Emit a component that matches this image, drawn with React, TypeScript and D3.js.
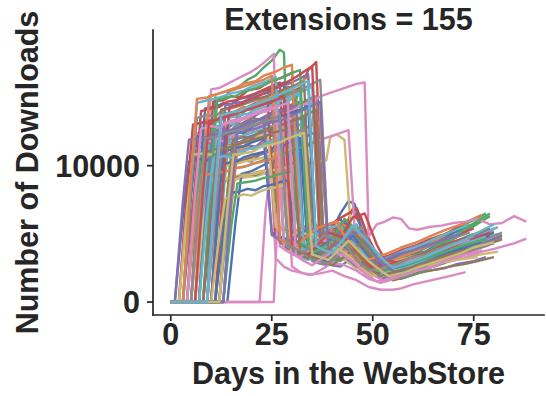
import React from "react";
import * as d3 from "d3";

// Daily download counts per extension: [day in the WebStore, downloads]
const extensionSeries: [number, number][][] = [
  [[0,0],[3,0],[5,7600],[6.5,12200],[9,12000],[11,12700],[13,12500],[16,13200],[18,13000],[21,13700],[23,14000],[25,14600],[27,4800],[29,4300],[31,4200],[34,4900],[37,5300],[42,6100],[45,4300],[49,2400],[52,2700],[56,2900],[59,3500],[63,3700],[66,4200],[70,4300],[75,4900]],
  [[0,0],[5,0],[7,8200],[8.5,13400],[11,13200],[13,13900],[15,13700],[18,14300],[20,14100],[23,14800],[26,15100],[29,15800],[31,3900],[33,3600],[35,3300],[38,4100],[41,4600],[44,4300],[46,3900],[49,2600],[52,1900],[55,2300],[59,2600],[62,3100],[66,3400],[69,3900],[73,4200],[78,4800]],
  [[0,0],[9,0],[10,7000],[11,15000],[13,14900],[15,15600],[17,15800],[19,16300],[21,16600],[23,17200],[25,17700],[27,18500],[28,18300],[30,4400],[32,3900],[34,3600],[37,4700],[40,5500],[43,5000],[45,4600],[48,3300],[51,2600],[55,3000],[58,3400],[62,3800],[65,4300],[69,4800],[72,5600],[75,6000],[78,6500]],
  [[0,0],[8,0],[10,7400],[11.5,11800],[14,12100],[16,12600],[19,12800],[21,13300],[24,13500],[27,13900],[30,14200],[32,15600],[34,17000],[36,17600],[38,3200],[40,3500],[42,4600],[45,6800],[47,5600],[49,3600],[52,2600],[54,2200],[58,2500],[61,2900],[65,3300],[68,3600],[72,4000],[76,4400]],
  [[0,0],[6,0],[8,6600],[9.5,10600],[12,10900],[14,10700],[16,11300],[19,11500],[21,11400],[24,12100],[27,12400],[30,13000],[32,3400],[34,3200],[36,3000],[39,3700],[41,4300],[44,3900],[46,3500],[49,2400],[52,1700],[56,2000],[59,2300],[63,2900],[66,3100],[69,3500],[72,3800],[77,4400]],
  [[0,0],[7,0],[9,8000],[10.5,12700],[13,12600],[15,13100],[17,13000],[20,13500],[22,13400],[25,13900],[28,14200],[30,14500],[32,14700],[34,3600],[36,3300],[38,3100],[41,4000],[43,4800],[46,4100],[48,3500],[51,2600],[54,2000],[58,2300],[61,2600],[65,3000],[68,3300],[71,3600],[74,3900]],
  [[0,0],[7,0],[8.5,9000],[10,15600],[12,15700],[14,16000],[16,16300],[18,16600],[20,16900],[22,17300],[24,17800],[25.5,18200],[27,4100],[29,3700],[31,3500],[34,4200],[36,4800],[39,5100],[42,5400],[45,3900],[49,2300],[52,2500],[56,2800],[60,3200],[63,3500],[67,3900],[70,4200],[74,4700]],
  [[0,0],[10,0],[12,7000],[13.5,11300],[16,11500],[18,11400],[20,11900],[23,12000],[25,12400],[28,12600],[31,12900],[33,13100],[35,3000],[37,2800],[39,2700],[42,3500],[44,4100],[47,3700],[49,3100],[52,2300],[54,1800],[58,2100],[61,2500],[65,2800],[68,3200],[72,3500],[75,3900],[80,4300]],
  [[0,0],[5,0],[7,5400],[8.5,8600],[11,8700],[13,8900],[15,8800],[17,9100],[20,9200],[22,9300],[24,9500],[26.5,9500],[28,5300],[31,4900],[33,4600],[36,4400],[38,4100],[41,3800],[44,3300],[47,2600],[50,2100],[54,2400],[57,2700],[61,3000],[64,3300],[68,3600],[71,3900],[76,4300]],
  [[0,0],[4,0],[6,8100],[7.5,13100],[10,13300],[12,13200],[14,13700],[16,13900],[19,14100],[21,14400],[24,14700],[26,14900],[28,15300],[30,3700],[32,3300],[34,3100],[37,3800],[39,4400],[42,4200],[44,3900],[47,2900],[50,2200],[54,2500],[57,2900],[61,3400],[64,3700],[68,4100],[71,4500],[76,5100]],

  [[0,0],[14,0],[16,5800],[17.5,9400],[20,9600],[22,9900],[24,10200],[26,10500],[29,10700],[31,11100],[34,11500],[37,12000],[39,4100],[40.5,5600],[42,6500],[44,7400],[45.5,7200],[47,5600],[50,3600],[52,2800],[55,2900],[58,3000],[62,3500],[65,3800],[69,4300],[72,4600],[78,5200]],
  [[0,0],[2,0],[4,7000],[5.5,11200],[8,11400],[10,11300],[12,11800],[14,12000],[16,11900],[19,12400],[21,12700],[24,13100],[26,5600],[28,5300],[30,5100],[33,5500],[35,5900],[38,5200],[41,4600],[44,3600],[48,2700],[51,2900],[55,3200],[58,3600],[62,4000],[65,4300],[69,4700],[74,5300]],
  [[0,0],[11,0],[13,7800],[14.5,12600],[17,12800],[19,12700],[21,13200],[23,13500],[26,13600],[28,14100],[31,14400],[33,14700],[35,15000],[37,3400],[39,3200],[41,3100],[44,3900],[46,4400],[49,3300],[51,2600],[53,2200],[56,2000],[60,2400],[63,2700],[67,3200],[70,3600],[74,4000],[77,4500],[81,5000]],
  [[0,0],[9,0],[11,8400],[12.5,13600],[15,13800],[17,14000],[19,14300],[21,14600],[24,14700],[26,15100],[29,15300],[32,15700],[34,4500],[36,4200],[38,3900],[41,5000],[43,5900],[45,6100],[47,6300],[49,4600],[52,3000],[55,2700],[58,2600],[62,3000],[65,3300],[69,3700],[72,4100],[78,4600]],
  [[0,0],[12,0],[14,6300],[15.5,10200],[18,10400],[20,10300],[22,10800],[24,11000],[27,11200],[29,11600],[32,12000],[34,12200],[36,12500],[38,2900],[40,2700],[42,2600],[45,3300],[47,3800],[50,2900],[52,2300],[55,1900],[57,1700],[61,2100],[64,2300],[68,2500],[71,2800],[75,3000],[78,3300]],
  [[0,0],[3,0],[5,6000],[6.5,9700],[9,9800],[11,10000],[13,9900],[15,10300],[18,10400],[20,10600],[22,10900],[25,11200],[27,4400],[29,3900],[31,3700],[34,4300],[37,4900],[40,5000],[42,5200],[45,3800],[48,2500],[52,2700],[55,2900],[59,3300],[62,3600],[66,3900],[69,4200],[74,4600]],
  [[0,0],[2,0],[4,7600],[5.5,12300],[8,12500],[10,12400],[12,12900],[14,13000],[17,13300],[19,13500],[21,13800],[24,14100],[26,3200],[28,2600],[30,2300],[33,2100],[35,2000],[38,2500],[40,2900],[43,2700],[46,2300],[49,1700],[52,1400],[55,1700],[58,2000],[62,2400],[65,2700],[69,3100],[72,3400]],
  [[0,0],[6,0],[8,7400],[9.5,12000],[12,12200],[14,12100],[16,12600],[18,12800],[21,13000],[23,13300],[26,13500],[28,13800],[30,14000],[32,4000],[34,3700],[36,3500],[39,4400],[41,5100],[44,4700],[46,4300],[49,3000],[52,2200],[55,2500],[59,2800],[62,3200],[66,3500],[69,3900],[73,4200],[77,4700]],
  [[0,0],[9,0],[11,5600],[12.5,9000],[15,9100],[17,9300],[20,9400],[22,9600],[25,9700],[28,9900],[31,10000],[34,10200],[38.5,10400],[39.5,12100],[41,12300],[43,11900],[45,3600],[47,3200],[49,2900],[52,2200],[54,1800],[58,2100],[61,2300],[65,2600],[68,2900],[72,3200],[75,3400],[81,3700]],
  [[0,0],[8,0],[10,8000],[11.5,12900],[14,13100],[16,13000],[18,13500],[20,13800],[23,14000],[25,14300],[28,14600],[30,14900],[32,15200],[34,3800],[36,3500],[38,3300],[41,4600],[43,5400],[46,4700],[48,4100],[51,2800],[53,2100],[57,2500],[60,2800],[64,3300],[67,3600],[71,4000],[74,4400],[79,5000]],

  [[0,0],[5,0],[7,8800],[8.5,14200],[11,14300],[13,14600],[15,14500],[17,14900],[20,15100],[22,15400],[25,15700],[28,16100],[30,4600],[32,4200],[34,3900],[37,4700],[39,5300],[42,5600],[44,5800],[47,4200],[50,2800],[53,3000],[57,3400],[60,3800],[64,4300],[67,4700],[71,5200],[76,5800]],
  [[0,0],[10,0],[12,8600],[13.5,13800],[16,14000],[18,14300],[20,14200],[22,14800],[25,15000],[27,15400],[30,15800],[32,16100],[34,16500],[36,3600],[38,3400],[40,3200],[43,4300],[45,5000],[48,4100],[50,3300],[53,2700],[55,2300],[59,2600],[62,2900],[66,3400],[69,3800],[73,4200],[76,4700],[80,5200]],
  [[0,0],[4,0],[6,6800],[7.5,10900],[10,11100],[12,11000],[14,11500],[16,11600],[19,11900],[21,12100],[24,12400],[27,12800],[29,4100],[31,3800],[33,3600],[36,4200],[38,4700],[41,4400],[43,4200],[46,2900],[49,2000],[53,2400],[56,2700],[60,3100],[63,3500],[67,4000],[70,4400],[75,5000]],
  [[0,0],[7,0],[9,9200],[10.5,14700],[13,14800],[15,15100],[17,15000],[19,15500],[22,15700],[24,16100],[27,16400],[30,16800],[32,4900],[34,4500],[36,4200],[39,5200],[41,6000],[44,6500],[46,6900],[49,4700],[51,3400],[54,3000],[57,2800],[61,3200],[64,3500],[68,3900],[71,4300],[77,5000]],
  [[0,0],[9,0],[11,7200],[12.5,11600],[15,11800],[17,11700],[19,12100],[21,12300],[24,12500],[26,12800],[29,13100],[31,13300],[33,13600],[35,3300],[37,3100],[39,2900],[42,3900],[44,4600],[47,3700],[49,3000],[52,2300],[54,1900],[58,2200],[61,2500],[65,2900],[68,3300],[72,3700],[75,4100],[79,4500]],
  [[0,0],[11,0],[13,5800],[14.5,9100],[17,9200],[19,9400],[21,9300],[23,9600],[26,9800],[28,10000],[31,10300],[34,10600],[36,3100],[38,2900],[40,2700],[43,3400],[45,3900],[48,3200],[50,2700],[53,2000],[55,1600],[59,1900],[62,2200],[66,2400],[69,2600],[73,2800],[76,3000],[80,3300]],
  [[0,0],[22,0],[23.5,6800],[25,10500],[27,10700],[29,11000],[31,11200],[34,11600],[36,11800],[39,12100],[41,12300],[44,12600],[46,3000],[48,2500],[50,2000],[53,1500],[56,1800],[59,2000],[62,2400],[66,2700],[69,3000],[73,3300],[77,3700],[80,3900],[85,4300],[88,4650]],
  [[0,0],[12,0],[14,8000],[15.5,12800],[18,13000],[20,13100],[22,13400],[24,13600],[27,13900],[29,14200],[32,14500],[34,14800],[36,15100],[38,3700],[40,3500],[42,3300],[45,4200],[47,4800],[50,3500],[52,2800],[55,2400],[57,2100],[61,2400],[64,2700],[68,3100],[71,3500],[75,3900],[78,4300],[82,4700]],
  [[0,0],[8,0],[10,6200],[11.5,9900],[14,10000],[16,10100],[18,10300],[20,10400],[23,10600],[25,10800],[28,11000],[31,11400],[33,4300],[35,4000],[37,3800],[40,4300],[42,4700],[45,4100],[47,3600],[50,2700],[53,2200],[57,2500],[60,2800],[64,3200],[67,3500],[71,3800],[74,4100],[78,4500]],
  [[0,0],[6,0],[8,7100],[9.5,11500],[12,11700],[14,11600],[16,12100],[18,12200],[21,12500],[23,12700],[26,13000],[29,13400],[31,4200],[33,3900],[35,3600],[38,4400],[40,5000],[43,4700],[45,4400],[48,3200],[51,2300],[54,2600],[58,3000],[61,3400],[65,3800],[68,4200],[72,4600],[77,5100]],

  [[0,0],[1,0],[3,6400],[4.5,10300],[7,10500],[9,10400],[11,10900],[13,11000],[15,11200],[18,11400],[20,11700],[23,12000],[25,5100],[27,4800],[29,4600],[32,5000],[34,5400],[37,4800],[39,4300],[42,3300],[46,2500],[49,2700],[53,3000],[56,3300],[60,3700],[63,4000],[67,4400],[71,4900]],
  [[0,0],[13,0],[15,7000],[16.5,11100],[19,11300],[21,11200],[23,11700],[25,11900],[28,12100],[30,12400],[33,12700],[35,13000],[37,13200],[39,3500],[41,3700],[43,3900],[45,4800],[46,5200],[49,3900],[51,3200],[54,2400],[56,2000],[60,2300],[63,2600],[67,3000],[70,3400],[74,3800],[77,4200],[81,4700]],
  [[0,0],[7,0],[9,8300],[10.5,13300],[13,13500],[15,13700],[17,13600],[19,14200],[22,14400],[24,14700],[27,15000],[29,15300],[31,15500],[33,4000],[35,3700],[37,3400],[40,4600],[42,5600],[45,5000],[47,4500],[50,3200],[52,2400],[56,2800],[59,3100],[63,3600],[66,4000],[70,4600],[73,5200],[79,6300]],
  [[0,0],[4,0],[6,8700],[7.5,14000],[10,14200],[12,14300],[14,14700],[16,14800],[19,15100],[21,15300],[24,15700],[27,16100],[29,4500],[31,4200],[33,3900],[36,4700],[38,5400],[41,5200],[43,5000],[46,3600],[49,2700],[52,2900],[56,3200],[59,3600],[63,4000],[66,4400],[70,4800],[75,5400]],
  [[0,0],[10,0],[12,9000],[13.5,14400],[16,14600],[18,14700],[20,15000],[22,15200],[25,15400],[27,15800],[30,16100],[32,16400],[34,16700],[36,3900],[38,3600],[40,3400],[43,4500],[45,5300],[48,4400],[50,3800],[53,2900],[55,2400],[59,2700],[62,3000],[66,3500],[69,3900],[73,4300],[76,4800],[80,5400]],
  [[0,0],[5,0],[7,6900],[8.5,11000],[11,11200],[13,11100],[15,11500],[17,11700],[20,11900],[22,12200],[25,12400],[28,12800],[30,3800],[32,3500],[34,3200],[37,3900],[39,4500],[42,4100],[44,3700],[47,2700],[50,1900],[53,2200],[57,2500],[60,2900],[64,3200],[67,3600],[71,3900],[76,4400]],
  [[0,0],[5,0],[7,7300],[8.5,11700],[11,11900],[13,11800],[15,12200],[17,12400],[20,12600],[22,12900],[25,13200],[28,13600],[30,2600],[32,2200],[34,2000],[37,2100],[40,2300],[43,1900],[46,1600],[49,1100],[52,900],[55,900],[57,1000],[60,1300],[63,1500],[66,1700],[69,1900],[73,2200]],
  [[0,0],[3,0],[5,8400],[6.5,13500],[9,13700],[11,13600],[13,14100],[15,14200],[18,14500],[20,14700],[23,15000],[26,15400],[28,4300],[30,4000],[32,3800],[35,4500],[37,5000],[40,5200],[42,5300],[45,3900],[48,2600],[51,2800],[55,3100],[58,3500],[62,3900],[65,4200],[69,4600],[74,5100]],
  [[0,0],[6,0],[8,5600],[9.5,8900],[12,9000],[14,9100],[16,9000],[18,9300],[21,9400],[23,9600],[26,9700],[29,9900],[31,4800],[33,4500],[35,4200],[38,4400],[40,4500],[43,3800],[45,3300],[48,2600],[51,2000],[54,2300],[58,2600],[61,2900],[65,3200],[68,3500],[72,3800],[77,4200]],
  [[0,0],[11,0],[13,8400],[14.5,13500],[17,13700],[19,13800],[21,14100],[23,14300],[26,14500],[28,14900],[31,15200],[33,15500],[35,15800],[37,4200],[39,3900],[41,3700],[44,4800],[46,5700],[49,4200],[51,3600],[54,2800],[56,2400],[60,2800],[63,3100],[67,3600],[70,4000],[74,4500],[77,5000],[81,5500]],

  [[0,0],[8,0],[10,6200],[11.5,10000],[14,10200],[16,10300],[18,10600],[20,10800],[23,11000],[25,11300],[28,11500],[30,11800],[32,12000],[34,3500],[36,3200],[38,3000],[41,3800],[43,4400],[46,3900],[48,3500],[51,2500],[53,2000],[57,2300],[60,2600],[64,3100],[67,3400],[71,3800],[74,4200],[79,4800]],
  [[0,0],[6,0],[8,9400],[9.5,15100],[12,15300],[14,15500],[16,15700],[18,16000],[21,16200],[23,16600],[26,16900],[28,17200],[30,17400],[32,4200],[34,3900],[36,3700],[39,5000],[41,5900],[44,5500],[46,5200],[49,3600],[51,2700],[55,3000],[58,3400],[62,3900],[65,4400],[69,5100],[72,5700],[77,6400]],
  [[0,0],[12,0],[14,6100],[15.5,9800],[18,9900],[20,10100],[22,10300],[24,10500],[27,10700],[29,11000],[32,11300],[34,11500],[36,11800],[38,3300],[40,3100],[42,3000],[45,3800],[47,4500],[50,3300],[52,2600],[55,2100],[57,1800],[61,2100],[64,2500],[68,2900],[71,3400],[75,3800],[78,4300],[82,4900]],
  [[0,0],[2,0],[4,8100],[5.5,13000],[8,13200],[10,13100],[12,13500],[14,13700],[16,13900],[19,14200],[21,14400],[24,14800],[26,4700],[28,4400],[30,4100],[33,4800],[35,5300],[38,5600],[40,5800],[43,4200],[47,2900],[50,3100],[54,3400],[57,3800],[61,4200],[64,4600],[68,5000],[72,5600]],
  [[0,0],[7,0],[9,7800],[10.5,12500],[13,12700],[15,12600],[17,12800],[19,13200],[22,13400],[24,13700],[27,14000],[29,14200],[31,14400],[33,4100],[35,3800],[37,3500],[40,4400],[42,5200],[45,4600],[47,4100],[50,3000],[52,2300],[56,2600],[59,2900],[63,3400],[66,3700],[70,4100],[73,4500],[78,5000]],
  [[0,0],[9,0],[11,8800],[12.5,14100],[15,14300],[17,14400],[19,14700],[21,14900],[24,15100],[26,15400],[29,15700],[31,15900],[33,16100],[35,3900],[37,3600],[39,3400],[42,4500],[44,5500],[47,4600],[49,4000],[52,3000],[54,2500],[58,2800],[61,3100],[65,3600],[68,4000],[72,4500],[75,4900],[79,5400]],
  [[0,0],[25.5,0],[26.5,6500],[28,13800],[30,14000],[32,14400],[34,14600],[36,14900],[38,15200],[40,15400],[42,15600],[44,15800],[46,16000],[48,16100],[49,4800],[51,5700],[53,5900],[55,6200],[57,6100],[59,5400],[61,5300],[64,5500],[67,5600],[70,5800],[73,5900],[76,6100],[79,5700],[82,5800],[85,6300],[88,5900]],
  [[0,0],[13,0],[15,8700],[16.5,13900],[19,14100],[21,14300],[23,14500],[25,14700],[28,15000],[30,15300],[33,15700],[35,16000],[37,16300],[39,4000],[41,4400],[43,4800],[45,5300],[47,5500],[50,3900],[52,3100],[55,2600],[57,2300],[61,2700],[64,3000],[68,3400],[71,3800],[75,4200],[78,4600],[82,5100]],
  [[0,0],[2,0],[4,6700],[5.5,10800],[8,10900],[10,10800],[12,11200],[14,11400],[16,11500],[19,11800],[21,12100],[24,12400],[26,5500],[28,5200],[30,4900],[33,5000],[35,5000],[38,4400],[40,4000],[43,3100],[47,2300],[50,2500],[54,2800],[57,3100],[61,3400],[64,3700],[68,4000],[72,4400]],
  [[0,0],[3,0],[5,9100],[6.5,14600],[9,14800],[11,14900],[13,15100],[15,15300],[18,15500],[20,15800],[23,16100],[26,16500],[28,4400],[30,4100],[32,3900],[35,4700],[37,5200],[40,5500],[42,5600],[45,4000],[48,2800],[51,3000],[55,3400],[58,3800],[62,4200],[65,4600],[69,5100],[74,5700]],

  [[0,0],[10,0],[12,7700],[13.5,12300],[16,12500],[18,12400],[20,12800],[22,13100],[25,13300],[27,13600],[30,13900],[32,14100],[34,14400],[36,3600],[38,3300],[40,3100],[43,4100],[45,4900],[48,3800],[50,3100],[53,2500],[55,2100],[59,2400],[62,2800],[66,3200],[69,3600],[73,4000],[76,4500],[80,5100]],
  [[0,0],[4,0],[6,5800],[7.5,9300],[10,9400],[12,9500],[14,9600],[16,9800],[19,10000],[21,10200],[24,10400],[27,10800],[29,4600],[31,4300],[33,4000],[36,4300],[38,4600],[41,4200],[43,3800],[46,2900],[49,2200],[53,2500],[56,2800],[60,3100],[63,3500],[67,3800],[70,4200],[75,4600]],
  [[0,0],[8,0],[10,9200],[11.5,14800],[14,15000],[16,15100],[18,15400],[20,15600],[23,15900],[25,16200],[28,16500],[30,16800],[32,17000],[34,4300],[36,4000],[38,3800],[41,5100],[43,6100],[46,5300],[48,4800],[51,3300],[53,2600],[57,3000],[60,3300],[64,3800],[67,4300],[71,5000],[74,5600],[79,6500]],
  [[0,0],[11,0],[13,8900],[14.5,14300],[17,14500],[19,14800],[21,15000],[23,15300],[26,15700],[28,16000],[31,16500],[33,16900],[35,17300],[37,4400],[39,4200],[41,4000],[43,5200],[45,6200],[47,6400],[48,6500],[51,4200],[53,3100],[56,2900],[59,2800],[63,3200],[66,3500],[70,4000],[73,4400],[79,5100]],
  [[0,0],[1,0],[3,7400],[4.5,11900],[7,12000],[9,12100],[11,12300],[13,12500],[15,12600],[18,12900],[20,13200],[23,13500],[25,4900],[27,4600],[29,4400],[32,5000],[34,5500],[37,5100],[39,4800],[42,3600],[46,2600],[49,2800],[53,3100],[56,3500],[60,3800],[63,4100],[67,4500],[72,5000]],
  [[0,0],[12,0],[14,7400],[15.5,11900],[18,12100],[20,12000],[22,12500],[24,12700],[27,12900],[29,13200],[32,13500],[34,13800],[36,14100],[38,3400],[40,3200],[42,3100],[45,3800],[47,4300],[50,3200],[52,2500],[55,2100],[57,1900],[61,2200],[64,2600],[68,3000],[71,3400],[75,3800],[78,4200],[82,4600]],
  [[0,0],[4,0],[6,7900],[7.5,12700],[10,12900],[12,12800],[14,13200],[16,13400],[19,13600],[21,13900],[24,14200],[26,14400],[28,3900],[30,3500],[32,3300],[35,4000],[37,4600],[40,4400],[42,4100],[45,3000],[48,2200],[51,2400],[55,2700],[58,3000],[62,3400],[65,3700],[69,4100],[74,4600]],
  [[0,0],[9,0],[11,6700],[12.5,10700],[15,10900],[17,10800],[19,11200],[21,11400],[24,11600],[26,11900],[29,12200],[31,12400],[33,12700],[35,3200],[37,3000],[39,2800],[42,3600],[44,4200],[47,3500],[49,2900],[52,2200],[54,1700],[58,2000],[61,2300],[65,2700],[68,3000],[72,3400],[75,3800],[79,4200]],
  [[0,0],[10,0],[12,4800],[13.5,7600],[16,7700],[18,7900],[20,7800],[22,8100],[24,8300],[26,8400],[28,8600],[30,4200],[32,3900],[34,3600],[37,3900],[39,4200],[42,3800],[44,3400],[47,2500],[50,1900],[53,2200],[57,2400],[60,2600],[64,2700],[67,2900],[71,3100],[76,3300]],
  [[0,0],[7,0],[9,6600],[10.5,10500],[13,10700],[15,10600],[17,11000],[19,11200],[22,11400],[24,11700],[27,12000],[29,12200],[31,12400],[33,3800],[35,3500],[37,3300],[40,4100],[42,4700],[45,4200],[47,3800],[50,2700],[52,2000],[56,2300],[59,2700],[63,3100],[66,3500],[70,3900],[73,4300],[78,4800]],

  [[0,0],[11,0],[13,5200],[14.5,8000],[17,8100],[19,8300],[21,8200],[23,8500],[25,8600],[27,8800],[29,8900],[31,4400],[33,4100],[35,3800],[38,4200],[40,4600],[43,4100],[45,3700],[48,2800],[51,2100],[54,2400],[58,2700],[61,3000],[65,3400],[68,3700],[72,4000],[77,4400]],
  [[0,0],[3,0],[5,9300],[6.5,14900],[9,15000],[11,15200],[13,15400],[15,15500],[18,15800],[20,16000],[23,16300],[25,16600],[27,4600],[29,4300],[31,4100],[34,4900],[36,5400],[39,5700],[41,5900],[44,4300],[47,3000],[50,3200],[54,3600],[57,4000],[61,4400],[64,4800],[68,5300],[73,5800]],
  [[0,0],[13,0],[15,5600],[16.5,8700],[19,8800],[21,8900],[23,9100],[25,9200],[27,9400],[30,9600],[32,4300],[34,4000],[36,3700],[39,4300],[41,4800],[44,4300],[46,3900],[49,2800],[52,2200],[55,2500],[59,2800],[62,3100],[66,3500],[69,3800],[73,4200],[78,4600]],
  [[0,0],[6,0],[8,8300],[9.5,13300],[12,13400],[14,13600],[16,13800],[18,14000],[21,14300],[23,14500],[26,14800],[28,15100],[30,4000],[32,3700],[34,3500],[37,4400],[39,5100],[42,4800],[44,4500],[47,3300],[50,2500],[53,2700],[57,3000],[60,3300],[64,3700],[67,4100],[71,4500],[76,5000]],
  [[0,0],[13,0],[15,7700],[16.5,12400],[19,12600],[21,12700],[23,12900],[25,13200],[28,13400],[30,13700],[33,14100],[35,14400],[37,14700],[39,3800],[41,4300],[43,4700],[45,5000],[47,5200],[50,3600],[52,2900],[55,2300],[57,2000],[61,2400],[64,2800],[68,3200],[71,3600],[75,4000],[78,4400],[82,4900]],
  [[0,0],[8,0],[10,7000],[11.5,11200],[14,11300],[16,11500],[18,11700],[20,11900],[23,12100],[25,12400],[28,12600],[30,12900],[32,3700],[34,3400],[36,3200],[39,3900],[41,4500],[44,4000],[46,3600],[49,2500],[52,1900],[55,2200],[59,2500],[62,2800],[66,3200],[69,3500],[73,3800],[78,4200]],
  [[0,0],[9,0],[11,8100],[12.5,13000],[15,13200],[17,13300],[19,13600],[21,13800],[24,14000],[26,14300],[29,14600],[31,3400],[33,3000],[35,2700],[38,3300],[40,3700],[43,3400],[45,3000],[48,2100],[51,1500],[54,1700],[58,2000],[61,2300],[65,2600],[68,3000],[72,3400],[77,3800]],
  [[0,0],[5,0],[7,7500],[8.5,12000],[11,12100],[13,12300],[15,12500],[17,12600],[20,12900],[22,13100],[25,13400],[27,13700],[29,4200],[31,3900],[33,3700],[36,4400],[38,4900],[41,4600],[43,4300],[46,3100],[49,2300],[52,2500],[56,2800],[59,3200],[63,3500],[66,3900],[70,4300],[75,4800]],
  [[0,0],[12,0],[14,6800],[15.5,10800],[18,10900],[20,11000],[22,11300],[24,11500],[27,11700],[29,12000],[31,12200],[33,12400],[35,3500],[37,3300],[39,3100],[42,3900],[44,4500],[47,3600],[49,3000],[52,2300],[54,1900],[58,2200],[61,2500],[65,2900],[68,3200],[72,3600],[75,4000],[80,4400]],
  [[0,0],[9,0],[11,8500],[12.5,13700],[15,13900],[17,14000],[19,14300],[21,14500],[24,14800],[26,15100],[29,15500],[31,15800],[34,16200],[36,4100],[38,3800],[40,3600],[43,4700],[45,5600],[48,4700],[50,4000],[53,3000],[55,2500],[59,2900],[62,3200],[66,3700],[69,4100],[73,4600],[76,5100],[80,5700]],
];

const palette = ["#4C72B0", "#DD8452", "#55A868", "#C44E52", "#8172B3", "#937860", "#DA8BC3", "#8C8C8C", "#CCB974", "#64B5CD"];
const xTicks = [0, 25, 50, 75];
const yTicks = [0, 10000];
const titleText = "Extensions = 155";
const xLabel = "Days in the WebStore";
const yLabel = "Number of Downloads";

const W = 546;
const H = 396;
const left = 153;
const right = 544;
const top = 30;
const bottom = 315;
const ink = "#262626";
const font = "'Liberation Sans', Arial, Helvetica, sans-serif";

export default function App() {
  const x = d3.scaleLinear().domain([-4.4, 92.4]).range([left, right]);
  const y = d3.scaleLinear().domain([-950, 19950]).range([bottom, top]);
  const line = d3
    .line<[number, number]>()
    .x((d) => x(d[0]))
    .y((d) => y(d[1]));

  return (
    <svg width={W} height={H} style={{ position: "absolute", left: 0, top: 0, background: "#fff" }}>
      <rect width={W} height={H} fill="#fff" />
      <g>
        {extensionSeries.map((s, i) => (
          <path
            key={i}
            d={line(s) ?? ""}
            fill="none"
            stroke={palette[i % palette.length]}
            strokeWidth={2.4}
            strokeLinejoin="round"
          />
        ))}
      </g>
      {/* spines */}
      <line x1={left} x2={left} y1={top} y2={bottom} stroke={ink} strokeWidth={1.7} strokeLinecap="square" />
      <line x1={left} x2={right} y1={bottom} y2={bottom} stroke={ink} strokeWidth={1.7} strokeLinecap="square" />
      {/* y ticks */}
      {yTicks.map((t) => (
        <g key={t} transform={`translate(0,${y(t)})`}>
          <line x1={left - 6} x2={left} stroke={ink} strokeWidth={1.7} />
          <text x={left - 13} dy="0.36em" textAnchor="end" fontFamily={font} fontWeight="bold" fontSize={30.5} fill={ink}>
            {t}
          </text>
        </g>
      ))}
      {/* x ticks */}
      {xTicks.map((t) => (
        <g key={t} transform={`translate(${x(t)},0)`}>
          <line y1={bottom} y2={bottom + 6} stroke={ink} strokeWidth={1.7} />
          <text y={bottom + 30} textAnchor="middle" fontFamily={font} fontWeight="bold" fontSize={30.5} fill={ink}>
            {t}
          </text>
        </g>
      ))}
      <text x={(left + right) / 2} y={30} textAnchor="middle" fontFamily={font} fontWeight="bold" fontSize={30.5} fill={ink}>
        {titleText}
      </text>
      <text x={(left + right) / 2} y={384} textAnchor="middle" fontFamily={font} fontWeight="bold" fontSize={30.5} fill={ink}>
        {xLabel}
      </text>
      <text
        transform={`translate(38,${(top + bottom) / 2}) rotate(-90)`}
        textAnchor="middle"
        fontFamily={font}
        fontWeight="bold"
        fontSize={30.5}
        fill={ink}
      >
        {yLabel}
      </text>
    </svg>
  );
}
